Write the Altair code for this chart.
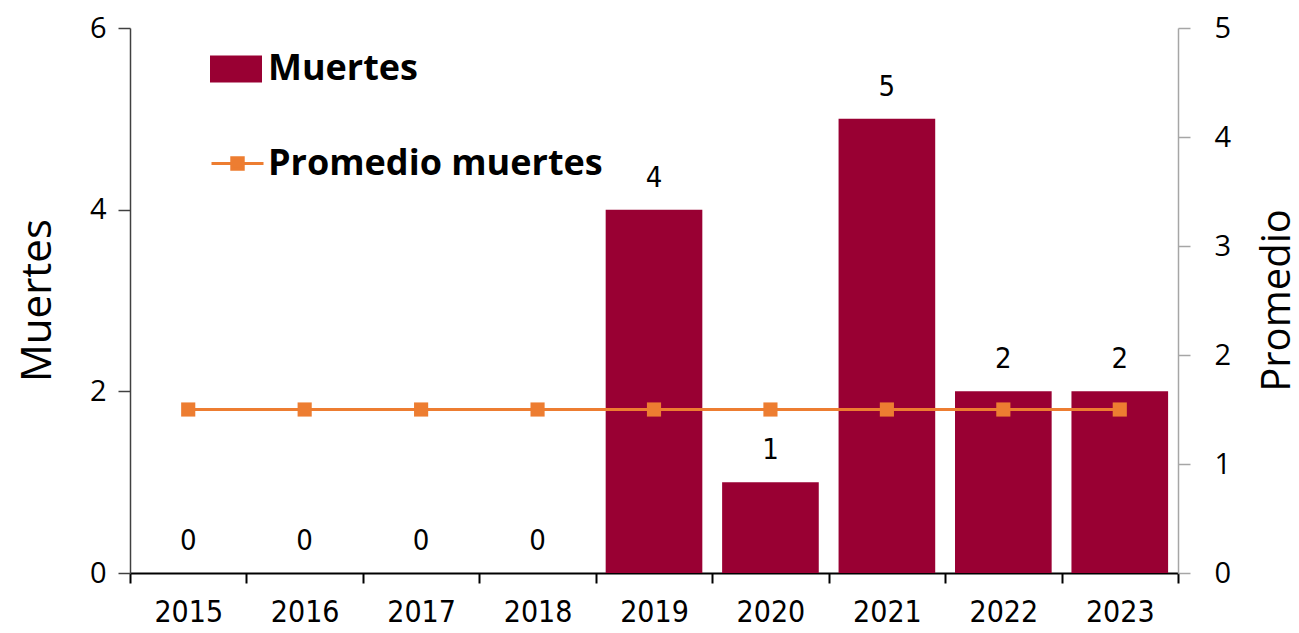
import altair as alt
import pandas as pd

years = ["2015", "2016", "2017", "2018", "2019", "2020", "2021", "2022", "2023"]
muertes = [0, 0, 0, 0, 4, 1, 5, 2, 2]
promedio = [1.5, 1.5, 1.5, 1.5, 1.5, 1.5, 1.5, 1.5, 1.5]

CRIMSON = "#990033"
ORANGE = "#ED7D31"
NARROW = "DejaVu Sans Condensed, Liberation Sans, sans-serif"
SANS = "Open Sans"

df = pd.DataFrame({"anio": years, "muertes": muertes, "promedio": promedio})
base = alt.Chart(df)

x = alt.X(
    "anio:N", sort=years,
    scale=alt.Scale(paddingInner=0, paddingOuter=0),
    axis=alt.Axis(title=None, labelAngle=0, tickBand="extent", domainColor="black",
                  domainWidth=2, tickColor="black", tickWidth=2, tickSize=10,
                  labelFont=NARROW, labelFontSize=30, labelColor="black", labelPadding=14),
)

y_left = alt.Y(
    "muertes:Q",
    scale=alt.Scale(domain=[0, 6], nice=False),
    axis=alt.Axis(title="Muertes", values=[0, 2, 4, 6], format="d", grid=False,
                  domainColor="#404040", domainWidth=1.5, tickColor="#404040", tickWidth=1.5,
                  tickSize=12, labelFont=SANS, labelFontSize=29, labelColor="black",
                  labelPadding=12, titleFont=SANS, titleFontSize=42, titleFontWeight="normal",
                  titleColor="black", titleAngle=-90, titleX=-80, titleY=272,
                  titleAlign="center", titleBaseline="alphabetic"),
)

bars = base.transform_calculate(s1="'Muertes'").mark_bar(
    color=CRIMSON, width=alt.RelativeBandSize(0.83)
).encode(
    x=x,
    y=y_left,
    fill=alt.Fill(
        "s1:N",
        scale=alt.Scale(domain=["Muertes"], range=[CRIMSON]),
        legend=alt.Legend(title=None, orient="none", legendX=80, legendY=15, padding=0,
                          symbolType="M-1,-0.52H1V0.52H-1Z", symbolSize=2704,
                          symbolStrokeWidth=0, labelFont=SANS, labelFontSize=36,
                          labelFontWeight="bold", labelColor="black", labelOffset=6,
                          labelLimit=600),
    ),
)

labels = base.mark_text(dy=-32, baseline="middle", font=NARROW, fontSize=29, color="black").encode(
    x=x,
    y=alt.Y("muertes:Q", scale=alt.Scale(domain=[0, 6], nice=False)),
    text="muertes:Q",
)

left = alt.layer(bars, labels)

y_right = alt.Y(
    "promedio:Q",
    scale=alt.Scale(domain=[0, 5], nice=False),
    axis=alt.Axis(orient="right", title="Promedio", values=[0, 1, 2, 3, 4, 5], format="d",
                  grid=False, domainColor="#A6A6A6", domainWidth=1.5, tickColor="#A6A6A6",
                  tickWidth=1.5, tickSize=12, labelFont=SANS, labelFontSize=29,
                  labelColor="black", labelPadding=24, titleFont=SANS, titleFontSize=40,
                  titleFontWeight="normal", titleColor="black", titleAngle=-90, titleX=111,
                  titleY=272, titleAlign="center", titleBaseline="alphabetic"),
)

line = base.mark_line(color=ORANGE, strokeWidth=3).encode(x=x, y=y_right)
points = base.transform_calculate(s2="'Promedio muertes'").mark_square(size=200, opacity=1, filled=True).encode(
    x=x,
    y=y_right,
    color=alt.Color(
        "s2:N",
        scale=alt.Scale(domain=["Promedio muertes"], range=[ORANGE]),
        legend=alt.Legend(title=None, orient="none", legendX=80, legendY=108, padding=0,
                          symbolType="M-1,0H1M-0.22,-0.22H0.22V0.22H-0.22Z", symbolSize=2704,
                          symbolStrokeColor=ORANGE, symbolStrokeWidth=3,
                          labelFont=SANS, labelFontSize=36, labelFontWeight="bold",
                          labelColor="black", labelOffset=3, labelLimit=600),
    ),
)

right = alt.layer(line, points)

chart = alt.layer(left, right).resolve_scale(y="independent").properties(
    width=1048, height=545,
    padding={"left": 122, "top": 20, "right": 113, "bottom": 58},
    autosize=alt.AutoSizeParams(type="none"),
).configure_view(stroke=None)

chart.save("out.html", embed_options={"renderer": "svg", "actions": False})
